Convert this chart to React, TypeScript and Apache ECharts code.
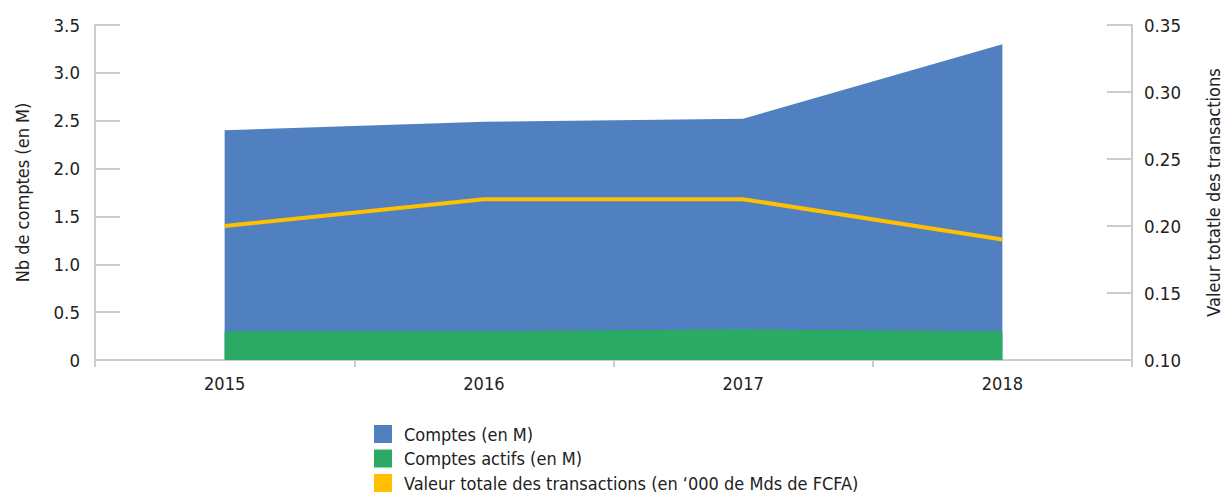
import React, { useEffect, useRef } from "react";
import * as echarts from "echarts";

const years = ["2015", "2016", "2017", "2018"];
const comptes = [2.4, 2.49, 2.52, 3.3];
const comptesActifs = [0.3, 0.3, 0.32, 0.3];
const valeurTransactions = [0.2, 0.22, 0.22, 0.19];

const FONT = "'DejaVu Sans Condensed', 'Liberation Sans', sans-serif";
const AXIS_GREY = "#cccccc";
const TEXT = "#222222";

export default function App() {
  const ref = useRef<HTMLDivElement>(null);
  useEffect(() => {
    document.body.style.margin = "0";
    document.body.style.overflow = "hidden";
    document.documentElement.style.overflow = "hidden";
    if (!ref.current) return;
    const chart = echarts.init(ref.current, null, { renderer: "svg", width: 1226, height: 494 });
    chart.setOption({
      animation: false,
      textStyle: { fontFamily: FONT },
      grid: { left: 95, right: 94, top: 25, bottom: 134, containLabel: false, outerBoundsMode: "none" },
      legend: {
        orient: "vertical",
        left: 374,
        top: 425,
        padding: 0,
        itemWidth: 18,
        itemHeight: 18,
        itemGap: 6.5,
        icon: "rect",
        textStyle: { fontFamily: FONT, fontSize: 18, color: TEXT, padding: [0, 0, 0, 7] },
        data: [
          { name: "Comptes (en M)", icon: "rect" },
          { name: "Comptes actifs (en M)", icon: "rect" },
          { name: "Valeur totale des transactions (en ‘000 de Mds de FCFA)", icon: "rect" },
        ],
      },
      xAxis: {
        type: "category",
        data: years,
        boundaryGap: true,
        axisLine: { lineStyle: { color: AXIS_GREY, width: 2 } },
        axisTick: { show: true, length: 7, lineStyle: { color: AXIS_GREY, width: 2 } },
        axisLabel: { color: TEXT, fontSize: 18, margin: 14, fontFamily: FONT },
        splitLine: { show: false },
      },
      yAxis: [
        {
          type: "value",
          min: 0,
          max: 3.5,
          interval: 0.5,
          name: "Nb de comptes (en M)",
          nameLocation: "middle",
          nameGap: 64,
          nameRotate: 90,
          nameTextStyle: { color: TEXT, fontSize: 18, fontFamily: FONT },
          axisLine: { show: true, lineStyle: { color: AXIS_GREY, width: 2 } },
          axisTick: { show: true, inside: true, length: 25, lineStyle: { color: AXIS_GREY, width: 2 } },
          axisLabel: {
            color: TEXT,
            fontSize: 18.5,
            margin: 15,
            fontFamily: FONT,
            formatter: (v: number) => (v === 0 ? "0" : v.toFixed(1)),
          },
          splitLine: { show: false },
        },
        {
          type: "value",
          min: 0.1,
          max: 0.35,
          interval: 0.05,
          position: "right",
          name: "Valeur totatle des transactions",
          nameLocation: "middle",
          nameGap: 72,
          nameRotate: 90,
          nameTextStyle: { color: TEXT, fontSize: 18, fontFamily: FONT },
          axisLine: { show: true, lineStyle: { color: AXIS_GREY, width: 2 } },
          axisTick: { show: true, inside: true, length: 25, lineStyle: { color: AXIS_GREY, width: 2 } },
          axisLabel: {
            color: TEXT,
            fontSize: 18.5,
            margin: 12,
            fontFamily: FONT,
            formatter: (v: number) => v.toFixed(2),
          },
          splitLine: { show: false },
        },
      ],
      series: [
        {
          name: "Comptes (en M)",
          type: "line",
          data: comptes,
          symbol: "none",
          itemStyle: { color: "#5180C1" },
          lineStyle: { width: 0, color: "#5180C1" },
          areaStyle: { color: "#5180C1", opacity: 1 },
          z: 1,
        },
        {
          name: "Comptes actifs (en M)",
          type: "line",
          data: comptesActifs,
          symbol: "none",
          itemStyle: { color: "#2BAA66" },
          lineStyle: { width: 0, color: "#2BAA66" },
          areaStyle: { color: "#2BAA66", opacity: 1 },
          z: 2,
        },
        {
          name: "Valeur totale des transactions (en ‘000 de Mds de FCFA)",
          type: "line",
          yAxisIndex: 1,
          data: valeurTransactions,
          symbol: "none",
          itemStyle: { color: "#FFC000" },
          lineStyle: { width: 4, color: "#FFC000" },
          z: 3,
        },
      ],
    });
    return () => chart.dispose();
  }, []);
  return <div ref={ref} style={{ width: 1226, height: 494, position: "absolute", left: 0, top: 0 }} />;
}
